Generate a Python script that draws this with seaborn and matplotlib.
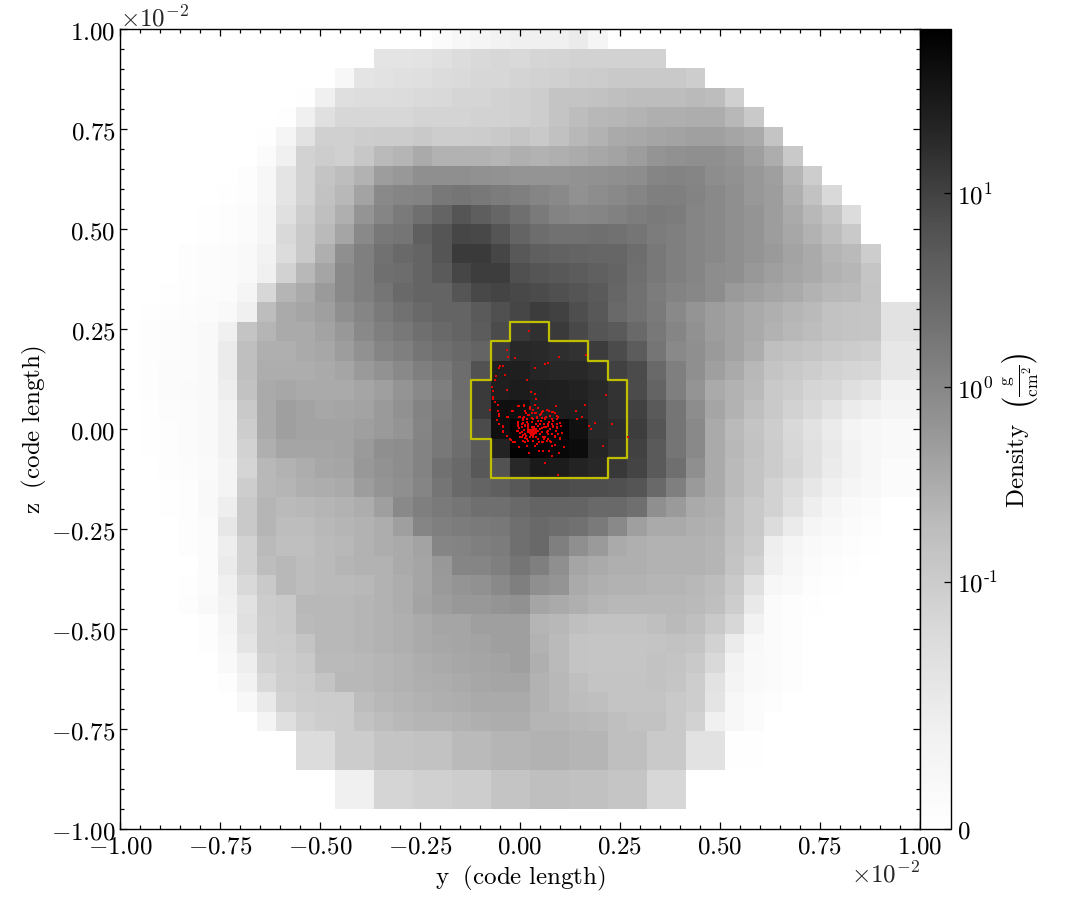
import numpy as np
import pandas as pd
import matplotlib
matplotlib.use("Agg")
import matplotlib.pyplot as plt
from matplotlib.colors import SymLogNorm
from matplotlib.ticker import NullLocator
import seaborn as sns

# rows run from z = +1 down to z = -1 (recalibrated to the chart's Greys map below)
row_00 = [0]*16 + [.003,.0059,.0071,.0089,.01,.01,.01,.0125,.0071] + [0]*16
row_01 = [0]*13 + [.0162,.0162,.0175,.0195,.0235,.026,.028,.026,.03,.031,.034,.034,.034,.034,.034] + [0]*13
row_02 = [0]*11 + [.0059,.0162,.018,.0195,.021,.0235,.0255,.028,.028,.031,.034,.037,.041,.044,.049,.049,.049,.049,.041] + [0]*11
row_03 = [0]*9 + [.0012,.01,.021,.022,.022,.0235,.0255,.026,.03,.03,.034,.037,.041,.059,.059,.064,.071,.078,.08,.078,.086,.078,.037] + [0]*9
row_04 = [0]*8 + [.0012,.01,.0195,.028,.028,.028,.028,.031,.031,.031,.034,.034,.037,.041,.059,.078,.093,.1,.112,.125,.125,.135,.135,.093,.049] + [0]*8
row_05 = [0]*7 + [.0012,.0071,.018,.037,.037,.041,.044,.044,.049,.041,.041,.044,.049,.057,.049,.067,.093,.116,.151,.16,.18,.195,.21,.21,.18,.151,.059] + [0]*7
row_06 = [0]*7 + [.003,.01,.034,.041,.037,.052,.086,.104,.151,.116,.116,.116,.104,.125,.116,.125,.145,.168,.195,.235,.316,.354,.38,.38,.316,.218,.135,.049] + [0]*6
row_07 = [0]*5 + [.0006,.0018,.0059,.0162,.034,.059,.08,.116,.243,.28,.38,.38,.38,.354,.34,.316,.316,.316,.34,.354,.38,.42,.55,.59,.55,.41,.354,.28,.218,.104,.041] + [0]*5
row_08 = [0]*4 + [.0006,.0012,.0018,.0059,.0162,.034,.064,.093,.195,.46,.55,.59,.86,.96,.86,.74,.66,.55,.46,.354,.41,.46,.55,.66,.66,.59,.46,.38,.28,.243,.125,.064,.026] + [0]*4
row_09 = [0]*3 + [.0006,.0012,.0018,.003,.0071,.0195,.041,.071,.125,.316,.55,.8,1.16,1.68,2.93,2.1,1.56,1.16,.8,.59,.51,.55,.62,.7,.8,.74,.55,.46,.38,.316,.243,.151,.093,.059,.0235] + [0]*3
row_10 = [0]*3 + [.0006,.0012,.0018,.003,.0071,.026,.049,.086,.18,.46,.86,.96,2.03,2.93,5.1,4.75,2.93,1.68,1.25,1.08,1.08,1.16,1.08,.96,.74,.66,.55,.46,.38,.316,.243,.168,.116,.078,.049] + [0]*3
row_11 = [0]*2 + [.0006,.0018,.0024,.003,.0041,.0089,.0235,.049,.125,.38,.66,1.08,1.4,1.68,2.93,8,8,5.1,2.63,2.03,1.85,1.68,1.56,1.56,1.25,.86,.66,.55,.46,.38,.316,.26,.195,.151,.104,.086,.041] + [0]*2
row_12 = [0]*2 + [.0006,.0018,.0024,.003,.0041,.01,.034,.093,.18,.46,.66,1.16,1.25,1.68,2.44,5.1,6.9,6.9,3.53,2.93,2.63,2.27,1.95,1.68,1.16,.86,.66,.55,.41,.38,.28,.218,.18,.151,.116,.1,.055] + [0]*2
row_13 = [0]*2 + [.0012,.0018,.0024,.003,.0071,.028,.104,.151,.26,.46,.66,.96,1.4,1.68,1.68,2.93,4.75,5.5,4.75,4.25,3.53,2.93,2.44,1.56,1.08,.74,.59,.51,.41,.26,.218,.18,.151,.116,.093,.086,.059] + [0]*2
row_14 = [0] + [.0012,.0018,.0024,.003,.0041,.01,.08,.151,.18,.218,.38,.55,.8,1.08,1.4,1.68,1.68,2.44,3.53,5.1,7.4,6.1,3.8,2.63,1.4,1.08,.8,.46,.316,.243,.195,.151,.125,.104,.086,.064,.059,.055,.018,.018]
row_15 = [0] + [.0018,.0024,.003,.0041,.01,.059,.104,.151,.151,.195,.28,.46,.66,.86,1.16,1.4,1.68,2.27,4.25,8.9,11.6,8,4.75,2.93,2.44,1.4,.86,.55,.354,.243,.195,.151,.116,.093,.08,.064,.059,.055,.018,.018]
row_16 = [0] + [.0018,.0024,.003,.0041,.0125,.071,.125,.125,.151,.168,.243,.354,.55,.66,.96,1.16,1.4,1.68,7.4,15.6,14.5,12.6,10.8,7.4,4.25,2.27,.96,.46,.38,.26,.195,.135,.071,.064,.055,.049,.044,.038,.0145,.0145]
row_17 = [0] + [.0018,.003,.003,.0041,.0125,.071,.135,.135,.135,.151,.18,.26,.34,.46,.66,.86,1.25,3.3,21,21,16.8,15.6,15.6,12.6,6.1,4.25,1.4,.66,.38,.218,.151,.093,.059,.049,.041,.034,.03,.028,.0145,.0145]
row_18 = [0] + [.0018,.003,.0035,.0041,.0108,.064,.151,.168,.151,.151,.151,.18,.218,.316,.46,.66,1.25,8,21,24.4,22.6,21,20,15.6,10,4.25,1.68,.66,.316,.151,.116,.086,.049,.041,.03,.028,.021,.0162,.0089,.0089]
row_19 = [0] + [.0012,.0024,.003,.0041,.0089,.049,.151,.218,.195,.168,.18,.195,.26,.354,.59,.8,1.16,8,40,40,22.6,22.6,22.6,14.5,10.8,6.1,2.44,.96,.41,.18,.116,.071,.049,.034,.026,.018,.0125,.01,.0077,.0077]
row_20 = [0] + [.0012,.0018,.003,.0041,.0089,.041,.151,.218,.195,.195,.195,.218,.26,.316,.55,.86,1.16,4.25,39.8,62,62,62,36,15.6,13,6.9,2.93,.96,.46,.151,.086,.059,.041,.026,.018,.0125,.0077,.0059,.0041,.0041]
row_21 = [0] + [.0012,.0018,.003,.0041,.0089,.034,.125,.18,.18,.18,.195,.26,.38,.41,.59,.86,1.25,2.44,18.8,62,62,51.5,44.5,16.8,11.6,6.1,2.44,.96,.46,.151,.093,.064,.044,.028,.0195,.0135,.0089,.0059,.0041,.0041]
row_22 = [0] + [.0006,.0018,.0024,.0035,.0077,.03,.093,.116,.135,.168,.18,.28,.34,.41,.59,1.08,1.4,2.63,3.3,15.6,27,24.4,18.8,15.6,8.9,5.5,2.44,1.16,.38,.151,.086,.059,.044,.03,.0195,.0125,.0089,.0059,.003,.003]
row_23 = [0] + [.0006,.0012,.0018,.0041,.0077,.041,.093,.104,.125,.135,.151,.243,.316,.38,.55,.96,1.4,1.68,2.03,2.63,4.25,4.25,3.8,3.8,3.53,2.93,1.4,.66,.26,.151,.086,.059,.034,.0235,.0145,.01,.0071,.0047,.003,.003]
row_24 = [0] + [.0006,.0012,.0018,.0041,.0112,.049,.104,.086,.093,.104,.116,.135,.218,.46,.66,.8,.96,1.16,1.16,1.4,1.68,1.68,1.68,1.4,1.4,1.16,.38,.26,.151,.125,.071,.049,.034,.0195,.0112,.0071,.0041,.003,.0006,.0006]
row_25 = [0]*2 + [.0006,.0018,.003,.0145,.049,.104,.08,.08,.093,.104,.116,.135,.218,.55,.66,.74,.8,.86,1.16,1.4,1.25,1.08,.8,.46,.218,.151,.151,.125,.116,.071,.049,.0235,.0125,.0071,.0047,.003,.0018] + [0]*2
row_26 = [0]*2 + [.0006,.0018,.003,.0112,.034,.086,.071,.071,.086,.093,.116,.135,.151,.195,.55,.59,.66,.74,1.16,1.4,.66,.38,.26,.151,.125,.116,.116,.116,.104,.064,.044,.0112,.0071,.0041,.003,.0018,.0012] + [0]*2
row_27 = [0]*3 + [.0006,.003,.0125,.034,.08,.093,.08,.086,.104,.116,.116,.151,.18,.28,.55,.55,.66,.96,.66,.38,.18,.151,.125,.125,.116,.116,.116,.104,.059,.034,.01,.0059,.003,.0018,.0012] + [0]*3
row_28 = [0]*2 + [.0006,.0012,.003,.01,.026,.049,.093,.08,.086,.086,.093,.116,.135,.18,.26,.316,.354,.46,.66,.38,.316,.151,.125,.116,.116,.104,.104,.093,.08,.049,.0195,.0059,.0041,.0018,.0012,.0006] + [0]*3
row_29 = [0]*2 + [.0006,.0018,.0041,.0089,.018,.044,.049,.093,.093,.093,.104,.116,.135,.195,.243,.28,.28,.316,.354,.18,.151,.125,.104,.093,.093,.093,.093,.086,.071,.041,.0135,.003,.0018,.0012,.0006] + [0]*4
row_30 = [0]*3 + [.0006,.0018,.0071,.0195,.041,.049,.086,.093,.093,.104,.116,.125,.151,.18,.18,.218,.218,.218,.104,.093,.071,.064,.064,.064,.071,.086,.071,.049,.028,.0089,.003,.0018,.0006] + [0]*5
row_31 = [0]*3 + [.0006,.0018,.0059,.0162,.041,.044,.059,.093,.093,.104,.116,.125,.151,.168,.18,.195,.218,.218,.116,.086,.059,.055,.055,.055,.059,.064,.059,.034,.0125,.0047,.003,.0018] + [0]*6
row_32 = [0]*4 + [.0006,.0041,.0112,.034,.041,.049,.086,.086,.093,.104,.116,.135,.151,.168,.18,.195,.218,.125,.086,.059,.055,.055,.055,.064,.059,.049,.026,.0089,.0041,.003,.0018] + [0]*6
row_33 = [0]*5 + [.0018,.0089,.026,.039,.044,.059,.093,.093,.104,.116,.125,.135,.151,.168,.18,.18,.116,.093,.071,.059,.059,.059,.064,.055,.041,.018,.0077,.0041,.003,.0018] + [0]*6
row_34 = [0]*6 + [.0047,.0135,.034,.041,.044,.044,.08,.093,.104,.116,.125,.135,.151,.151,.151,.116,.093,.08,.071,.059,.059,.059,.049,.041,.0162,.0059,.003,.0018] + [0]*7
row_35 = [0]*7 + [.0077,.021,.034,.041,.044,.064,.08,.093,.104,.104,.116,.125,.135,.135,.104,.104,.093,.086,.071,.064,.064,.049,.034,.01,.0059,.003] + [0]*8
row_36 = [0]*9 + [.0235,.0235,.044,.044,.059,.059,.064,.064,.086,.086,.104,.104,.116,.116,.104,.104,.071,.071,.049,.049,.018,.018,.0012,.0012] + [0]*8
row_37 = [0]*9 + [.0235,.0235,.044,.044,.059,.059,.064,.064,.086,.086,.104,.104,.116,.116,.104,.104,.071,.071,.049,.049,.018,.018,.0012,.0012] + [0]*8
row_38 = [0]*11 + [.01,.01,.03,.03,.037,.037,.041,.041,.059,.059,.071,.071,.067,.067,.055,.055,.028,.028] + [0]*12
row_39 = [0]*11 + [.01,.01,.03,.03,.037,.037,.041,.041,.059,.059,.071,.071,.067,.067,.055,.055,.028,.028] + [0]*12
row_40 = [0]*41

density_rows = [row_00,row_01,row_02,row_03,row_04,row_05,row_06,row_07,row_08,row_09,
                row_10,row_11,row_12,row_13,row_14,row_15,row_16,row_17,row_18,row_19,
                row_20,row_21,row_22,row_23,row_24,row_25,row_26,row_27,row_28,row_29,
                row_30,row_31,row_32,row_33,row_34,row_35,row_36,row_37,row_38,row_39,row_40]

# Particle positions, code length x 10^-2
particle_y = [.023,-.033,-.031,-.013,.097,.166,.037,.063,.071,-.05,-.052,-.042,-.06,-.038,-.063,.018,-.069,-.068,-.033,.027,.038,.215,-.068,-.067,.041,-.063,-.055,-.003,.01,.025,.038,.09,.163,-.075,-.054,-.053,-.019,.025,.046,.04,.055,.067,.073,.083,.139,-.052,-.031,-.002,.01,.023,.042,.055,.075,.093,.154,.143,-.058,-.053,-.042,-.004,.008,.017,.033,.044,.063,.072,.083,.1,.188,.23,.173,.178,-.043,-.043,-.032,-.025,-.022,-.004,.004,.013,.021,.029,.05,.061,.071,.092,.103,-.004,0,.008,.019,.05,.06,.075,.083,.093,.104,.004,.013,.025,.05,.063,.071,.088,.1,-.017,-.002,.008,.018,.033,.038,.048,.058,.075,.079,.088,.11,.208,.269,.023,.047,.058,.073,.081,.097,.062,.095,
              .032,.03,.035,.028,.036,.032,.026,.039,.03,.034,.023,.041,.029,.036,.024,.04,.033,.027,.021,.044,.031,.034,
              .012,.02,.045,.055,.01,.015,.04,.055,.065,.07,-.002,.005,.018,.04,.052,.06,.02,.042,.068,.08,.09,.015,.03,.05,.065,
              -.033,-.043,-.018,-.005,.01,.025,.033,.045,.058,.067,.0125,.021,.0375,.052,.0625,.054,.042,.029,.008,0,.008,-.004,.021,.05,.0625,.071,.004,-.008,.0125,0,.05,.058,.067,.0167,.046,.033,-.0125,.0125,.054,.071,
              .09,.079,.0875,.096,.079,.0917,.1,.083,.0933,.079,.096,.0875,.1,.0775]
particle_z = [.244,.197,.179,.178,.179,.184,.153,.162,.166,.157,.153,.157,.133,.134,.122,.123,.105,.094,.098,.093,.088,.084,.08,.076,.075,.068,.06,.058,.058,.055,.061,.058,.061,.048,.044,.037,.044,.05,.053,.041,.043,.047,.045,.042,.045,.032,.029,.031,.031,.035,.029,.028,.033,.032,.03,.024,.023,.013,.007,.017,.023,.025,.025,.021,.025,.018,.021,.015,.015,.012,.007,-.001,-.004,-.007,-.018,-.026,-.028,.008,.013,.008,.013,.017,.013,.013,.008,.013,.008,-.004,-.01,-.015,-.008,0,.004,0,.007,.002,-.01,-.021,-.023,-.021,-.013,-.021,-.013,-.017,-.023,-.033,-.044,-.029,-.042,-.029,-.043,-.032,-.032,-.029,-.042,-.04,-.044,-.042,-.019,-.059,-.056,-.056,-.056,-.067,-.059,-.086,-.114,
              -.005,-.002,-.001,-.007,-.008,.002,-.003,-.004,-.011,-.012,-.006,-.009,.004,.004,-.011,.001,-.015,-.014,-.002,-.005,-.008,-.004,
              .01,.003,.008,.003,-.002,-.018,-.02,-.008,.005,-.005,.002,-.008,.017,.012,.02,-.025,-.03,-.038,-.03,.012,-.005,.04,.04,.036,.03,
              .03,.005,.045,.057,.06,.055,.048,.052,.045,.047,.046,.036,.039,.0375,.0275,.0275,.0275,.0275,.0275,.029,.014,.0125,.0083,.0125,.004,.0125,.004,-.004,-.0125,-.021,-.0125,-.021,-.008,-.025,-.025,-.021,-.033,-.033,-.033,-.025,
              .058,.042,.039,.029,.025,.025,.014,.004,.004,-.0125,-.0125,-.021,-.025,-.033]

# Clump outline, code length x 10^-2
contour_y = [-.0244,.0732,.0732,.1707,.1707,.2195,.2195,.2683,.2683,.2195,.2195,-.0732,-.0732,-.1220,-.1220,-.0732,-.0732,-.0244,-.0244]
contour_z = [.2683,.2683,.2195,.2195,.1707,.1707,.1220,.1220,-.0732,-.0732,-.1220,-.1220,-.0244,-.0244,.1220,.1220,.2195,.2195,.2683]

major_ticks = [-1.0,-.75,-.5,-.25,0.0,.25,.5,.75,1.0]
minor_ticks = [-.95,-.9,-.85,-.8,-.7,-.65,-.6,-.55,-.45,-.4,-.35,-.3,-.2,-.15,-.1,-.05,
               .05,.1,.15,.2,.3,.35,.4,.45,.55,.6,.65,.7,.8,.85,.9,.95]
cbar_ticks = [0, 0.1, 1, 10]
cbar_labels = ["$0$", r"$10^{\text{-}1}$", "$10^{0}$", "$10^{1}$"]

sns.set_style("ticks")
plt.rcParams["mathtext.fontset"] = "cm"
plt.rcParams["font.family"] = ["DejaVu Serif"]
plt.rcParams["font.size"] = 18

W, H = 1085, 920
fig = plt.figure(figsize=(W/100, H/100), dpi=100, facecolor="white")
ax = fig.add_axes([120/W, 1-830/H, 800/W, 800/H])
cax = fig.add_axes([920/W, 1-830/H, 30.5/W, 800/H])

norm = SymLogNorm(linthresh=0.01, linscale=0.247, vmin=0, vmax=70, base=10)
cmap = plt.get_cmap("Greys")

# Recalibrate the first reading: shade on the straight ramp -> position on the Greys map
ramp_pos = np.linspace(0, 1, 512)
ramp_gray = cmap(ramp_pos)[:, 0] * 255
shade = 255 * (1 - np.asarray(norm(np.array(density_rows, dtype=float))))
shade = np.interp(shade, [0, 100, 140, 180, 220, 255], [0, 100, 143, 186, 224, 255])
density = norm.inverse(np.interp(shade, ramp_gray[::-1], ramp_pos[::-1]))

df = pd.DataFrame(density)
n = df.shape[1]
sns.heatmap(df, ax=ax, cbar_ax=cax, cmap=cmap, norm=norm,
            xticklabels=False, yticklabels=False, square=False)

def col(v):
    return (np.asarray(v, dtype=float) + 1) / 2 * n
def row(v):
    return (1 - np.asarray(v, dtype=float)) / 2 * n

ax.plot(col(contour_y), row(contour_z), color="#bfbf00", lw=1.6, solid_joinstyle="round", zorder=3)
ax.scatter(col(particle_y), row(particle_z), s=2.8, marker="s", color="#e60000", linewidths=0, zorder=4)

ax.set_axisbelow(False)
cax.set_axisbelow(False)
ax.set_xlim(0, n)
ax.set_ylim(n, 0)
ax.set_xticks(col(major_ticks))
ax.set_yticks(row(major_ticks))
ax.set_xticks(col(minor_ticks), minor=True)
ax.set_yticks(row(minor_ticks), minor=True)
ax.set_xticklabels([f"${t:.2f}$" for t in major_ticks])
ax.set_yticklabels([f"${t:.2f}$" for t in major_ticks], va="center_baseline")
ax.tick_params(which="both", direction="in", top=True, right=True, bottom=True, left=True,
               labelsize=18, color="black", labelcolor="black", width=0.9)
ax.tick_params(which="major", length=4.9)
ax.tick_params(axis="x", which="major", pad=4)
ax.tick_params(axis="y", which="major", pad=3)
ax.tick_params(which="minor", length=2.6)
for s in ax.spines.values():
    s.set_visible(True)
    s.set_linewidth(1.0)
    s.set_color("black")
ax.set_xlabel(r"$\mathrm{y\ \ (code\ length)}$", fontsize=18, labelpad=4, color="black")
ax.set_ylabel(r"$\mathrm{z\ \ (code\ length)}$", fontsize=18, labelpad=1.5, color="black")
ax.text(0.0, 0.998, r"$\times 10^{-2}$", transform=ax.transAxes, fontsize=18, ha="left", va="bottom")
ax.text(1.0, -0.04, r"$\times 10^{-2}$", transform=ax.transAxes, fontsize=18, ha="right", va="top")

cb = ax.collections[0].colorbar
cb.set_ticks(cbar_ticks)
cb.set_ticklabels(cbar_labels)
cb.minorticks_off()
cb.outline.set_visible(True)
cb.outline.set_linewidth(1.0)
cb.outline.set_edgecolor("black")
cax.yaxis.set_minor_locator(NullLocator())
cax.tick_params(axis="y", direction="in", length=4.9, width=0.9, labelsize=18, pad=5, color="black", labelcolor="black")
cb.set_label(r"$\mathrm{Density}\ \ \left(\frac{\mathrm{g}}{\mathrm{cm}^{2}}\right)$", fontsize=18, labelpad=1, color="black")

fig.savefig("out.png", dpi=100, facecolor="white")
